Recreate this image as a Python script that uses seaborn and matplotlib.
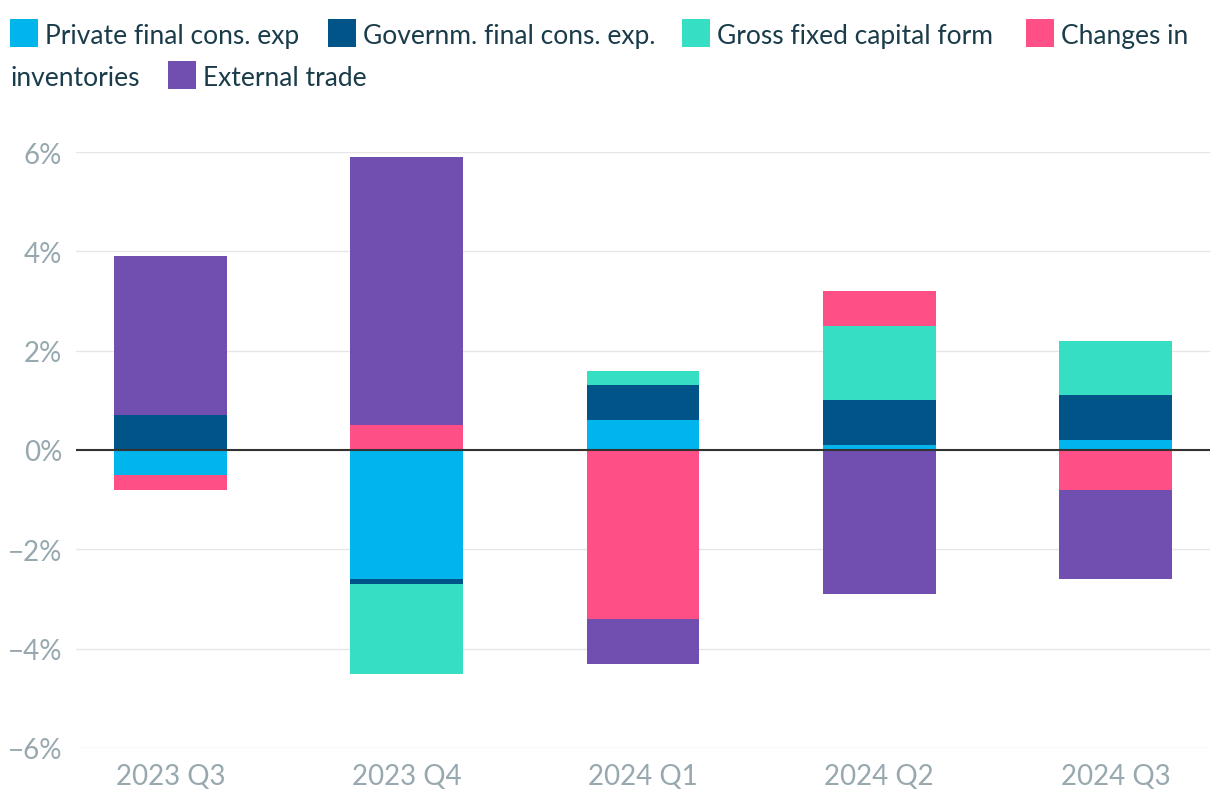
import numpy as np
import pandas as pd
import matplotlib
matplotlib.use("Agg")
import matplotlib.pyplot as plt
from matplotlib.patches import Rectangle
import seaborn as sns

# ---- data ----
quarters = ["2023 Q3", "2023 Q4", "2024 Q1", "2024 Q2", "2024 Q3"]
series_names = ["Private final cons. exp", "Governm. final cons. exp.",
                "Gross fixed capital form", "Changes in inventories", "External trade"]
private = [-0.5, -2.6, 0.6, 0.1, 0.2]
government = [0.7, -0.1, 0.7, 0.9, 0.9]
gfcf = [0.0, -1.8, 0.3, 1.5, 1.1]
inventories = [-0.3, 0.5, -3.4, 0.7, -0.8]
external = [3.2, 5.4, -0.9, -2.9, -1.8]
yticks = [-6, -4, -2, 0, 2, 4, 6]

colors = ["#00B4EC", "#005487", "#36DFC4", "#FF4F87", "#714FB1"]
series_vals = [private, government, gfcf, inventories, external]

sns.set_theme(style="white")
plt.rcParams["font.family"] = ["Lato", "DejaVu Sans"]

fig = plt.figure(figsize=(12.2, 8.12), dpi=100)
ax = fig.add_axes([76 / 1220, 1 - 749 / 812, (1210 - 76) / 1220, (749 - 153) / 812])

pos_base = np.zeros(len(quarters))
neg_base = np.zeros(len(quarters))
for name, vals, col in zip(series_names, series_vals, colors):
    v = np.array(vals, dtype=float)
    bottom = np.where(v >= 0, pos_base, neg_base)
    df = pd.DataFrame({"quarter": quarters, "value": v})
    sns.barplot(data=df, x="quarter", y="value", order=quarters, color=col,
                width=0.478, bottom=bottom, errorbar=None, ax=ax,
                linewidth=0, edgecolor="none", saturation=1, zorder=3)
    pos_base = pos_base + np.where(v > 0, v, 0)
    neg_base = neg_base + np.where(v < 0, v, 0)

ax.set_ylim(-6, 6)
ax.set_xlim(-0.4, 4.4)
ax.set_yticks(yticks)
ax.set_yticklabels([f"{t}%".replace("-", "\u2212") for t in yticks])
ax.set_xlabel("")
ax.set_ylabel("")
for s in ax.spines.values():
    s.set_visible(False)
ax.grid(axis="y", color="#e6e6e6", linewidth=1.0, zorder=0)
ax.grid(axis="x", visible=False)
ax.axhline(0, color="#333333", linewidth=1.5, zorder=5)
ax.tick_params(axis="both", length=0, labelsize=20, labelcolor="#97a8af")
ax.tick_params(axis="y", pad=10)
ax.tick_params(axis="x", pad=11)

# ---- legend (manual flow, wraps like reference) ----
legend_color = "#1a3c4a"
fs = 19
W, H = 1220, 812

def fx(px):
    return px / W

def fy(py):
    return 1 - py / H

items = [
    (0, 10, 34, "Private final cons. exp"),
    (1, 328, 34, "Governm. final cons. exp."),
    (2, 682, 34, "Gross fixed capital form"),
    (3, 1026, 34, "Changes in"),
    (4, 168, 76, "External trade"),
]
for idx, x0, yc, label in items:
    fig.patches.append(Rectangle((fx(x0), fy(yc + 14)), 28 / W, 28 / H,
                                 transform=fig.transFigure, facecolor=colors[idx],
                                 edgecolor="none"))
    fig.text(fx(x0 + 35), fy(yc), label, fontsize=fs, color=legend_color,
             va="center_baseline", ha="left")
fig.text(fx(10), fy(76), "inventories", fontsize=fs, color=legend_color,
         va="center_baseline", ha="left")

fig.savefig("out.png", dpi=100, facecolor="white")
